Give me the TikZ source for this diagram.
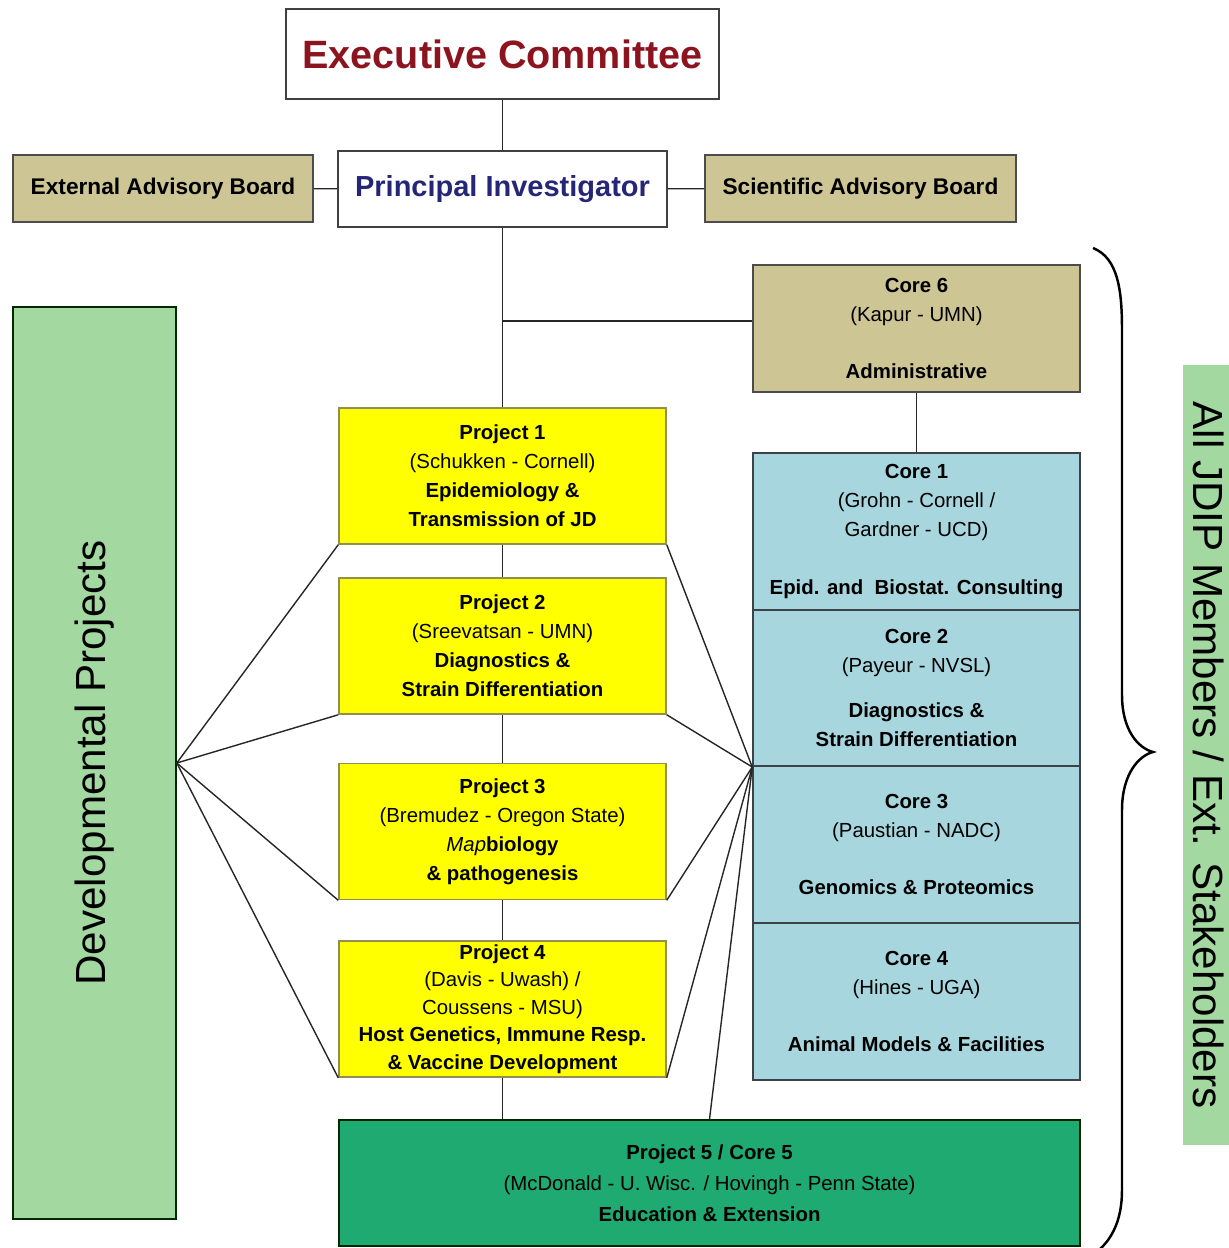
\documentclass[tikz,border=0pt]{standalone}
\usepackage{fontspec}
\setmainfont{Liberation Sans}

\definecolor{boardtan}{RGB}{205,197,148}
\definecolor{projyellow}{RGB}{255,255,0}
\definecolor{coreblue}{RGB}{168,214,222}
\definecolor{edugreen}{RGB}{30,170,112}
\definecolor{devgreen}{RGB}{163,216,160}
\definecolor{ecred}{RGB}{140,20,30}
\definecolor{piblue}{RGB}{38,38,120}
\newcommand{\boxtxt}{\fontsize{11.6}{16.5}\selectfont}

\begin{document}
\begin{tikzpicture}[x=0.02cm, y=-0.02cm,
    box/.style={draw=black!75, line width=0.9pt, inner sep=0pt, align=center, font=\boxtxt},
    board/.style={box, fill=boardtan, draw=black!70, minimum height=1.34cm, font=\fontsize{12.9}{15}\selectfont\bfseries},
    proj/.style={box, fill=projyellow, draw=olive!60!black!70, minimum width=6.54cm, minimum height=2.72cm},
    core/.style={box, fill=coreblue, draw=black!70!cyan!60!black, minimum width=6.54cm, minimum height=3.13cm},
    link/.style={draw=black!85, line width=0.8pt}]
    \useasboundingbox (0,0) rectangle (1229,1248);

    % top of the chart
    \node[box, minimum width=8.68cm, minimum height=1.80cm, line width=1.1pt,
          font=\fontsize{22.5}{26}\selectfont\bfseries, text=ecred] (ec) at (502.5,54) {Executive Committee};
    \node[box, minimum width=6.58cm, minimum height=1.52cm,
          font=\fontsize{16.5}{19}\selectfont\bfseries, text=piblue] (pi) at (502.5,189) {Principal Investigator};
    \node[board, minimum width=6.0cm] (eab) at (163,188.5) {External Advisory Board};
    \node[board, minimum width=6.22cm] (sab) at (860.5,188.5) {Scientific Advisory Board};

    % projects
    \node[proj] (p1) at (502.5,476) {\textbf{Project 1}\\(Schukken - Cornell)\\\textbf{Epidemiology \&}\\\textbf{Transmission of JD}};
    \node[proj] (p2) at (502.5,646) {\textbf{Project 2}\\(Sreevatsan - UMN)\\\textbf{Diagnostics \&}\\\textbf{Strain Differentiation}};
    \node[proj] (p3) at (502.5,831.5) {\textbf{Project 3}\\(Bremudez - Oregon State)\\\textit{Map}\textbf{biology}\\\textbf{\& pathogenesis}};
    \node[proj, font=\fontsize{11.6}{15.6}\selectfont] (p4) at (502.5,1009) {\textbf{Project 4}\\(Davis - Uwash) /\\Coussens - MSU)\\\textbf{Host Genetics, Immune Resp.}\\\textbf{\& Vaccine Development}};
    \node[box, fill=edugreen, draw=black!70!green!50!black, minimum width=14.82cm, minimum height=2.52cm,
          font=\fontsize{11.6}{17.6}\selectfont] (p5) at (709.5,1183)
          {\textbf{Project 5 / Core 5}\\(McDonald - U. Wisc. / Hovingh - Penn State)\\\textbf{Education \& Extension}};

    % cores
    \node[box, fill=boardtan, draw=black!70, minimum width=6.54cm, minimum height=2.54cm] (core6) at (916.5,328.5)
          {\textbf{Core 6}\\(Kapur - UMN)\\[16pt]\textbf{Administrative}};
    \node[core] (core1) at (916.5,531.5) {\textbf{Core 1}\\(Grohn - Cornell /\\Gardner - UCD)\\[16pt]\textbf{Epid. and\ \ Biostat. Consulting}};
    \node[core] (core2) at (916.5,688) {\textbf{Core 2}\\(Payeur - NVSL)\\[9pt]\textbf{Diagnostics \&}\\\textbf{Strain Differentiation}};
    \node[core] (core3) at (916.5,844.5) {\textbf{Core 3}\\(Paustian - NADC)\\[16pt]\textbf{Genomics \& Proteomics}};
    \node[core] (core4) at (916.5,1001.5) {\textbf{Core 4}\\(Hines - UGA)\\[16pt]\textbf{Animal Models \& Facilities}};

    % side panels
    \node[box, fill=devgreen, draw=black!60!green!40!black, rotate=90, minimum width=18.24cm, minimum height=3.26cm,
          font=\fontsize{24}{28}\selectfont] (dev) at (94.5,763) {Developmental Projects};
    \node[fill=devgreen, inner sep=0pt, rotate=-90, minimum width=15.6cm, minimum height=1.04cm,
          font=\fontsize{24}{28}\selectfont] (jdip) at (1209,755) {All JDIP Members / Ext. Stakeholders};

    % connectors
    \draw[link] (ec) -- (pi);
    \draw[link] (eab) -- (pi);
    \draw[link] (pi) -- (sab);
    \draw[link] (pi) -- (p1);
    \draw[link] (p1) -- (p2);
    \draw[link] (p2) -- (p3);
    \draw[link] (p3) -- (p4);
    \draw[link] (p4.south) -- (p4.south |- p5.north);
    \coordinate (jn) at (502.5,321);
    \draw[link] (jn) -- (jn -| core6.west);
    \draw[link] (core6) -- (core1);
    % dev is turned, so its south is the right side
    \foreach \p in {p1,p2,p3,p4}
        \draw[link] (dev.south) -- (\p.south west);
    \foreach \p in {p1,p2,p3,p4}
        \draw[link] (core2.south west) -- (\p.south east);
    \draw[link] (core2.south west) -- (p5.north);

    % brace
    \draw[line width=1.4pt] (1093,248) .. controls (1118,258) and (1122,290) .. (1122,330)
        -- (1122,695) .. controls (1122,730) and (1138,748) .. (1153,752)
        .. controls (1138,756) and (1122,775) .. (1122,810)
        -- (1122,1190) .. controls (1122,1220) and (1112,1238) .. (1100,1249);
\end{tikzpicture}
\end{document}
